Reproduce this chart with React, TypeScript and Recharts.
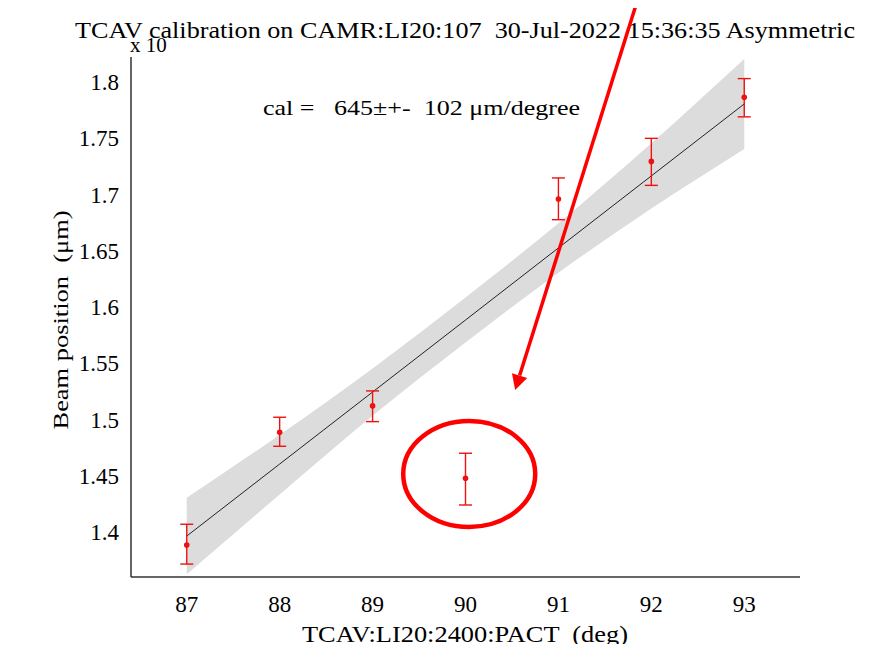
import {
  ComposedChart,
  Area,
  Line,
  Scatter,
  ErrorBar,
  XAxis,
  YAxis,
  ReferenceDot,
  ReferenceLine,
  Customized,
} from 'recharts'

const font = '"Liberation Serif", Tinos, "Noto Serif", "DejaVu Serif", FreeSerif, "Times New Roman", Times, serif'

// fitted line and its confidence band (x 10^4 um)
const fitX = [87, 88, 89, 90, 91, 92, 93]
const fitY = [1.3964, 1.4604, 1.5244, 1.5884, 1.6525, 1.7165, 1.7805]
const bandLow = [1.3624, 1.4334, 1.5034, 1.5684, 1.6305, 1.6875, 1.7405]
const bandHigh = [1.4304, 1.4864, 1.5454, 1.6084, 1.6745, 1.7455, 1.8205]

// measured beam positions with error bars
const pointX = [87, 88, 89, 90, 91, 92, 93]
const pointY = [1.3884, 1.4887, 1.5121, 1.4478, 1.696, 1.7294, 1.7864]
const pointLow = [1.3715, 1.4762, 1.4981, 1.424, 1.6776, 1.7081, 1.769]
const pointHigh = [1.4069, 1.502, 1.5254, 1.47, 1.7147, 1.7499, 1.803]

const xTicks = [87, 88, 89, 90, 91, 92, 93]
const yTicks = [1.4, 1.45, 1.5, 1.55, 1.6, 1.65, 1.7, 1.75, 1.8]

// annotation: circled outlier and arrow pointing to it
const outlier = { x: 90.04, y: 1.4516 }
const arrowFrom = { x: 91.86, y: 1.8751 }
const arrowTo = { x: 90.534, y: 1.5263 }

const fitData = fitX.map((x, i) => ({ x, fit: fitY[i], band: [bandLow[i], bandHigh[i]] }))
const pointData = pointX.map((x, i) => ({
  x,
  y: pointY[i],
  err: [pointY[i] - pointLow[i], pointHigh[i] - pointY[i]],
}))

const xDomain = [86.4, 93.6]
const yDomain = [1.36, 1.8222]
const frame = '#333'

const tickStyle = { fontSize: 23, fontFamily: font, fill: '#000' }

const Texts = () => (
  <g fontFamily={font} fill="#000">
    <text x={130} y={52} fontSize={21}>x 10</text>
    <text
      x={465}
      y={38}
      fontSize={23}
      textAnchor="middle"
      textLength={780}
      lengthAdjust="spacingAndGlyphs"
      style={{ whiteSpace: 'pre' }}
    >
      TCAV calibration on CAMR:LI20:107  30-Jul-2022 15:36:35 Asymmetric
    </text>
    <text x={263} y={115} fontSize={21} textLength={317} lengthAdjust="spacingAndGlyphs" style={{ whiteSpace: 'pre' }}>
      cal =   645±+-  102 μm/degree
    </text>
    <text x={465} y={642} fontSize={23} textAnchor="middle" textLength={326} lengthAdjust="spacingAndGlyphs" style={{ whiteSpace: 'pre' }}>
      TCAV:LI20:2400:PACT  (deg)
    </text>
    <text
      x={0}
      y={0}
      fontSize={22}
      textAnchor="middle"
      textLength={219}
      lengthAdjust="spacingAndGlyphs"
      transform="translate(68,320) rotate(-90)"
      style={{ whiteSpace: 'pre' }}
    >
      Beam position  (μm)
    </text>
  </g>
)

const Arrow = (p: any) => {
  const { x1, y1, x2, y2 } = p
  const a = Math.atan2(y2 - y1, x2 - x1)
  const len = 15
  const half = 8
  const bx = x2 - len * Math.cos(a)
  const by = y2 - len * Math.sin(a)
  const nx = -Math.sin(a) * half
  const ny = Math.cos(a) * half
  return (
    <g>
      <line x1={x1} y1={y1} x2={bx} y2={by} stroke="#ff0000" strokeWidth={3.5} />
      <polygon points={`${x2},${y2} ${bx + nx},${by + ny} ${bx - nx},${by - ny}`} fill="#ff0000" />
    </g>
  )
}

const Ellipse = (p: any) => (
  <ellipse cx={p.cx} cy={p.cy} rx={66} ry={53} fill="none" stroke="#ff0000" strokeWidth={4.5} />
)

const Dot = (p: any) => <circle cx={p.cx} cy={p.cy} r={2.8} fill="#ee1111" />

export default function App() {
  return (
    <div style={{ margin: -8, width: 887, height: 652, background: '#fff' }}>
      <ComposedChart
        width={887}
        height={652}
        data={fitData}
        margin={{ top: 57, right: 87, bottom: 20, left: 61 }}
      >
        <XAxis
          xAxisId="x"
          dataKey="x"
          type="number"
          domain={xDomain}
          allowDataOverflow
          ticks={xTicks}
          height={55}
          tickSize={0}
          tickMargin={19}
          tick={tickStyle}
          axisLine={{ stroke: frame, strokeWidth: 1.5 }}
        />
        <XAxis
          xAxisId="xb"
          type="number"
          domain={xDomain}
          allowDataOverflow
          ticks={xTicks}
          height={0}
          mirror
          tick={false}
          tickSize={6}
          axisLine={false}
          tickLine={{ stroke: frame, strokeWidth: 1.3 }}
        />
        <XAxis
          xAxisId="xt"
          orientation="top"
          type="number"
          domain={xDomain}
          allowDataOverflow
          ticks={xTicks}
          height={0}
          mirror
          tick={false}
          tickSize={6}
          axisLine={{ stroke: frame, strokeWidth: 1.5 }}
          tickLine={{ stroke: frame, strokeWidth: 1.3 }}
        />
        <YAxis
          yAxisId="y"
          type="number"
          domain={yDomain}
          allowDataOverflow
          ticks={yTicks}
          width={70}
          tickSize={0}
          tickMargin={12}
          tick={tickStyle}
          tickFormatter={(v: number) => String(v)}
          axisLine={{ stroke: frame, strokeWidth: 1.5 }}
        />
        <YAxis
          yAxisId="yl"
          type="number"
          domain={yDomain}
          allowDataOverflow
          ticks={yTicks}
          width={0}
          mirror
          tick={false}
          tickSize={6}
          axisLine={false}
          tickLine={{ stroke: frame, strokeWidth: 1.3 }}
        />
        <YAxis
          yAxisId="yr"
          orientation="right"
          type="number"
          domain={yDomain}
          allowDataOverflow
          ticks={yTicks}
          width={0}
          mirror
          tick={false}
          tickSize={6}
          axisLine={{ stroke: frame, strokeWidth: 1.5 }}
          tickLine={{ stroke: frame, strokeWidth: 1.3 }}
        />
        <Area
          xAxisId="x"
          yAxisId="y"
          dataKey="band"
          type="monotone"
          fill="#dcdcdc"
          fillOpacity={1}
          stroke="none"
          isAnimationActive={false}
        />
        <Line
          xAxisId="x"
          yAxisId="y"
          dataKey="fit"
          type="linear"
          stroke="#222"
          strokeWidth={1}
          dot={false}
          isAnimationActive={false}
        />
        <Scatter
          xAxisId="x"
          yAxisId="y"
          data={pointData}
          dataKey="y"
          shape={Dot}
          isAnimationActive={false}
        >
          <ErrorBar dataKey="err" direction="y" width={6.5} stroke="#ee1111" strokeWidth={1.4} />
        </Scatter>
        <ReferenceDot
          xAxisId="x"
          yAxisId="y"
          x={outlier.x}
          y={outlier.y}
          shape={Ellipse}
        />
        <ReferenceLine
          xAxisId="x"
          yAxisId="y"
          segment={[arrowFrom, arrowTo]}
          ifOverflow="visible"
          shape={Arrow}
        />
        <Customized component={Texts} />
      </ComposedChart>
    </div>
  )
}
